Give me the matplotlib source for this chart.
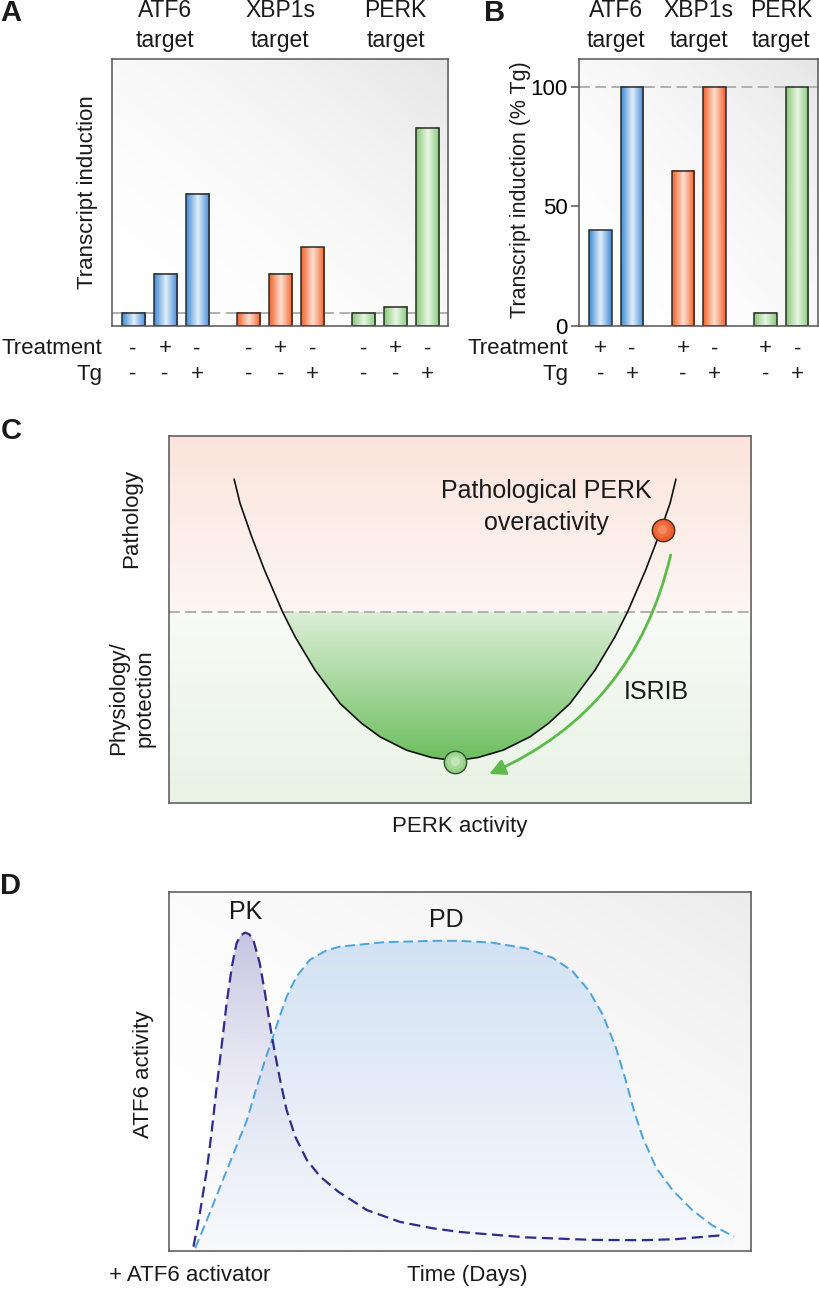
import numpy as np
import matplotlib
matplotlib.use("Agg")
import matplotlib.pyplot as plt
from matplotlib.colors import LinearSegmentedColormap, to_rgb, to_rgba
from matplotlib.patches import Polygon

plt.rcParams['font.family'] = ['Liberation Sans', 'DejaVu Sans']
plt.rcParams['text.color'] = '#1a1a1a'

# ---- data ----
a_groups = ['ATF6\ntarget', 'XBP1s\ntarget', 'PERK\ntarget']
a_values = [[5, 19.5, 49.5], [5, 19.5, 29.5], [5, 7.25, 74.25]]
a_treatment = ['-', '+', '-']
a_tg = ['-', '-', '+']
a_baseline = 5

b_groups = ['ATF6\ntarget', 'XBP1s\ntarget', 'PERK\ntarget']
b_values = [[40, 100], [65, 100], [5.5, 100]]
b_treatment = ['+', '-']
b_tg = ['-', '+']
b_ticks = [0, 50, 100]

# panel C: U-shaped curve (PERK activity vs outcome), arbitrary 0-10 units
c_x = [1.12, 1.22, 1.42, 1.64, 1.95, 2.17, 2.51, 2.94, 3.31, 3.63, 4.08, 4.51, 4.91,
       5.31, 5.74, 6.20, 6.52, 6.89, 7.32, 7.66, 7.88, 8.19, 8.41, 8.61, 8.71]
c_y = [8.82, 8.17, 7.26, 6.35, 5.21, 4.52, 3.62, 2.71, 2.17, 1.80, 1.44, 1.24, 1.15,
       1.24, 1.44, 1.80, 2.17, 2.71, 3.62, 4.52, 5.21, 6.35, 7.26, 8.17, 8.82]
c_threshold = 5.21
c_patho_pt = (8.48, 7.45)
c_physio_pt = (4.92, 1.13)

# panel D: PK and PD time courses, arbitrary 0-10 units
pk_x = [0.42, 0.53, 0.65, 0.73, 0.82, 0.91, 0.99, 1.08, 1.16, 1.23, 1.31, 1.38, 1.45,
        1.56, 1.65, 1.74, 1.82, 1.91, 2.02, 2.17, 2.37, 2.60, 2.91, 3.40, 3.97, 4.54,
        5.00, 6.13, 7.27, 8.13, 8.71, 9.51]
pk_y = [0.12, 1.05, 2.26, 3.28, 4.58, 5.79, 6.90, 7.92, 8.57, 8.79, 8.87, 8.82, 8.66,
        8.01, 7.18, 6.25, 5.51, 4.76, 3.93, 3.18, 2.53, 2.07, 1.65, 1.14, 0.81, 0.63,
        0.53, 0.38, 0.31, 0.30, 0.33, 0.44]
pd_x = [0.45, 0.65, 0.88, 1.11, 1.34, 1.51, 1.65, 1.77, 1.88, 2.02, 2.19, 2.42, 2.71,
        2.94, 3.68, 4.54, 4.98, 5.55, 6.13, 6.59, 6.93, 7.22, 7.45, 7.68, 7.85, 7.99,
        8.14, 8.37, 8.65, 8.99, 9.33, 9.71]
pd_y = [0.08, 0.86, 1.79, 2.72, 3.65, 4.58, 5.32, 5.88, 6.43, 7.08, 7.64, 8.11, 8.38,
        8.48, 8.60, 8.64, 8.64, 8.59, 8.43, 8.17, 7.80, 7.24, 6.59, 5.66, 4.74, 3.90,
        3.16, 2.32, 1.70, 1.14, 0.72, 0.40]

bar_colors = [('#3f8bd6', '#e4effa'), ('#f0622d', '#fde0d2'), ('#86c977', '#eaf6e6')]

W, H = 819, 1289
fig = plt.figure(figsize=(W / 100, H / 100), dpi=100)


def add_axes(x0, y0, x1, y1):
    return fig.add_axes([x0 / W, 1 - y1 / H, (x1 - x0) / W, (y1 - y0) / H])


def style_axes(ax):
    for s in ax.spines.values():
        s.set_color('#555555')
        s.set_linewidth(1.1)
        s.set_zorder(10)


def diag_background(ax, corner='#e6e6e6', power=2.0):
    x0, x1 = ax.get_xlim()
    y0, y1 = ax.get_ylim()
    u = np.linspace(0, 1, 200)
    U, V = np.meshgrid(u, u)
    t = np.clip((U + V) / 2, 0, 1) ** power
    c0 = np.array(to_rgb('white'))
    c1 = np.array(to_rgb(corner))
    img = c0 + (c1 - c0) * t[..., None]
    ax.imshow(img, extent=[x0, x1, y0, y1], origin='lower', aspect='auto', zorder=0)


def vgrad(ax, extent, c_bottom, c_top, clip=None, zorder=1):
    cmap = LinearSegmentedColormap.from_list('', [to_rgba(c_bottom), to_rgba(c_top)])
    g = np.linspace(0, 1, 256)[:, None]
    im = ax.imshow(g, cmap=cmap, extent=extent, origin='lower', aspect='auto',
                   zorder=zorder, interpolation='bilinear')
    if clip is not None:
        im.set_clip_path(clip)
    return im


def shaded_bars(ax, x, heights, width, edge, center):
    cmap = LinearSegmentedColormap.from_list('', [edge, center, edge])
    g = np.linspace(0, 1, 64)[None, :]
    bars = ax.bar(x, heights, width, facecolor='none', edgecolor='#2b2b2b',
                  linewidth=1.1, zorder=3)
    for b in bars:
        bx, by = b.get_x(), b.get_y()
        ax.imshow(g, cmap=cmap, extent=[bx, bx + b.get_width(), by, by + b.get_height()],
                  aspect='auto', zorder=2, interpolation='bicubic')


def dashed(ax, y):
    ax.axhline(y, color='#aaaaaa', lw=1.3, dashes=(6, 3), zorder=1.5)


fs = 16
row1, row2 = -0.085, -0.180

# ---------------- Panel A ----------------
axA = add_axes(112, 59, 448, 326)
axA.set_xlim(-0.66, 9.84)
axA.set_ylim(0, 100)
diag_background(axA)
a_pos = []
for g in range(3):
    pos = [g * 3.6 + i for i in range(3)]
    a_pos += pos
    shaded_bars(axA, pos, a_values[g], 0.72, *bar_colors[g])
    axA.text(g * 3.6 + 1, 1.124, a_groups[g], transform=axA.get_xaxis_transform(),
             ha='center', va='center', fontsize=16.5, linespacing=1.4)
dashed(axA, a_baseline)
axA.set_xticks([])
axA.set_yticks([])
style_axes(axA)
for i, p in enumerate(a_pos):
    axA.text(p, row1, a_treatment[i % 3], transform=axA.get_xaxis_transform(),
             ha='center', va='center', fontsize=fs)
    axA.text(p, row2, a_tg[i % 3], transform=axA.get_xaxis_transform(),
             ha='center', va='center', fontsize=fs)
axA.text(-0.028, row1, 'Treatment', transform=axA.transAxes, ha='right', va='center', fontsize=fs)
axA.text(-0.028, row2, 'Tg', transform=axA.transAxes, ha='right', va='center', fontsize=fs)
axA.text(-0.073, 0.5, 'Transcript induction', transform=axA.transAxes, rotation=90,
         ha='center', va='center', fontsize=fs)

# ---------------- Panel B ----------------
axB = add_axes(579, 59, 818, 326)
axB.set_xlim(-0.68, 6.9)
axB.set_ylim(0, 111.7)
diag_background(axB)
b_pos = []
for g in range(3):
    pos = [g * 2.62 + i for i in range(2)]
    b_pos += pos
    shaded_bars(axB, pos, b_values[g], 0.71, *bar_colors[g])
    axB.text(g * 2.62 + 0.5, 1.124, b_groups[g], transform=axB.get_xaxis_transform(),
             ha='center', va='center', fontsize=16.5, linespacing=1.4)
dashed(axB, 100)
axB.set_xticks([])
axB.set_yticks(b_ticks)
axB.tick_params(axis='y', length=6, width=1.1, color='#555555', labelsize=fs, pad=2)
style_axes(axB)
for i, p in enumerate(b_pos):
    axB.text(p, row1, b_treatment[i % 2], transform=axB.get_xaxis_transform(),
             ha='center', va='center', fontsize=fs)
    axB.text(p, row2, b_tg[i % 2], transform=axB.get_xaxis_transform(),
             ha='center', va='center', fontsize=fs)
axB.text(-0.045, row1, 'Treatment', transform=axB.transAxes, ha='right', va='center', fontsize=fs)
axB.text(-0.045, row2, 'Tg', transform=axB.transAxes, ha='right', va='center', fontsize=fs)
axB.text(-0.244, 0.51, 'Transcript induction (% Tg)', transform=axB.transAxes, rotation=90,
         ha='center', va='center', fontsize=15.5)

# ---------------- Panel C ----------------
axC = add_axes(169, 436, 751, 803)
axC.set_xlim(0, 10)
axC.set_ylim(0, 10)
vgrad(axC, [0, 10, c_threshold, 10], '#fdf6f3', '#fbe4dc', zorder=0)
vgrad(axC, [0, 10, 0, c_threshold], '#e8f3e4', '#f8fbf6', zorder=0)
cx = np.array(c_x)
cy = np.array(c_y)
fill_pts = np.column_stack([cx, np.minimum(cy, c_threshold)])
well = Polygon(fill_pts, closed=True, facecolor='none', edgecolor='none')
axC.add_patch(well)
vgrad(axC, [cx.min(), cx.max(), cy.min(), c_threshold], '#6cbe5f', '#ddefd8', clip=well, zorder=1)
dashed(axC, c_threshold)
axC.plot(cx, cy, color='#111111', lw=1.2, zorder=3, solid_joinstyle='round')
axC.annotate('', xy=(5.50, 0.79), xytext=(8.62, 6.76),
             arrowprops=dict(arrowstyle='-|>', color='#5cbb4b', lw=2.0, mutation_scale=24,
                             connectionstyle='arc3,rad=-0.25', shrinkA=0, shrinkB=0), zorder=4)
for pt, base, mid, light, edge in [(c_patho_pt, '#ec5e2a', '#f06c3a', '#f58a60', '#4a2a1c'),
                                   (c_physio_pt, '#93d084', '#a6d999', '#c2e6b8', '#33502c')]:
    axC.scatter(*pt, s=260, color=base, edgecolor=edge, linewidth=1.0, zorder=5)
    axC.scatter(*pt, s=140, color=mid, edgecolor='none', zorder=6)
    axC.scatter(*pt, s=45, color=light, edgecolor='none', zorder=7)
axC.text(6.48, 8.07, 'Pathological PERK\noveractivity', ha='center', va='center',
         fontsize=18, linespacing=1.4, zorder=6)
axC.text(8.37, 3.03, 'ISRIB', ha='center', va='center', fontsize=18, zorder=6)
axC.text(-0.64, 7.74, 'Pathology', rotation=90, ha='center', va='center', fontsize=fs)
axC.text(-0.64, 2.85, 'Physiology/\nprotection', rotation=90, ha='center', va='center',
         fontsize=fs, linespacing=1.3)
axC.text(4.99, -0.646, 'PERK activity', ha='center', va='center', fontsize=fs)
axC.set_xticks([])
axC.set_yticks([])
style_axes(axC)

# ---------------- Panel D ----------------
axD = add_axes(169, 892, 751, 1251)
axD.set_xlim(0, 10)
axD.set_ylim(0, 10)
diag_background(axD, corner='#ececec', power=2.2)
px_, py_ = np.array(pd_x), np.array(pd_y)
pd_poly = Polygon(np.vstack([np.column_stack([px_, py_]), [[px_[-1], 0], [px_[0], 0]]]),
                  closed=True, facecolor='none', edgecolor='none')
axD.add_patch(pd_poly)
vgrad(axD, [px_.min(), px_.max(), 0, py_.max()], '#f8fafd', '#d2e1f3', clip=pd_poly, zorder=1)
kx, ky = np.array(pk_x), np.array(pk_y)
pk_poly = Polygon(np.vstack([np.column_stack([kx, ky]), [[kx[-1], 0], [kx[0], 0]]]),
                  closed=True, facecolor='none', edgecolor='none')
axD.add_patch(pk_poly)
vgrad(axD, [kx.min(), kx.max(), 0, ky.max()], to_rgba('#f2f2f8', 0.0),
      to_rgba('#b9b6db', 0.8), clip=pk_poly, zorder=2)
axD.plot(px_, py_, color='#4aa3de', lw=1.4, dashes=(5, 2.5), zorder=3)
axD.plot(kx, ky, color='#2d2c8a', lw=1.6, dashes=(5, 2.5), zorder=4)
axD.text(1.31, 9.44, 'PK', ha='center', va='center', fontsize=18)
axD.text(4.76, 9.22, 'PD', ha='center', va='center', fontsize=18)
axD.text(-0.43, 4.93, 'ATF6 activity', rotation=90, ha='center', va='center', fontsize=fs)
axD.text(0.36, -0.67, '+ ATF6 activator', ha='center', va='center', fontsize=fs)
axD.text(5.12, -0.67, 'Time (Days)', ha='center', va='center', fontsize=fs)
axD.set_xticks([])
axD.set_yticks([])
style_axes(axD)

# panel letters
for letter, x, y in [('A', 11, 13), ('B', 495, 13), ('C', 11, 431), ('D', 11, 886)]:
    fig.text(x / W, 1 - y / H, letter, ha='center', va='center', fontsize=21, fontweight='bold')

fig.savefig('out.png', dpi=100)
